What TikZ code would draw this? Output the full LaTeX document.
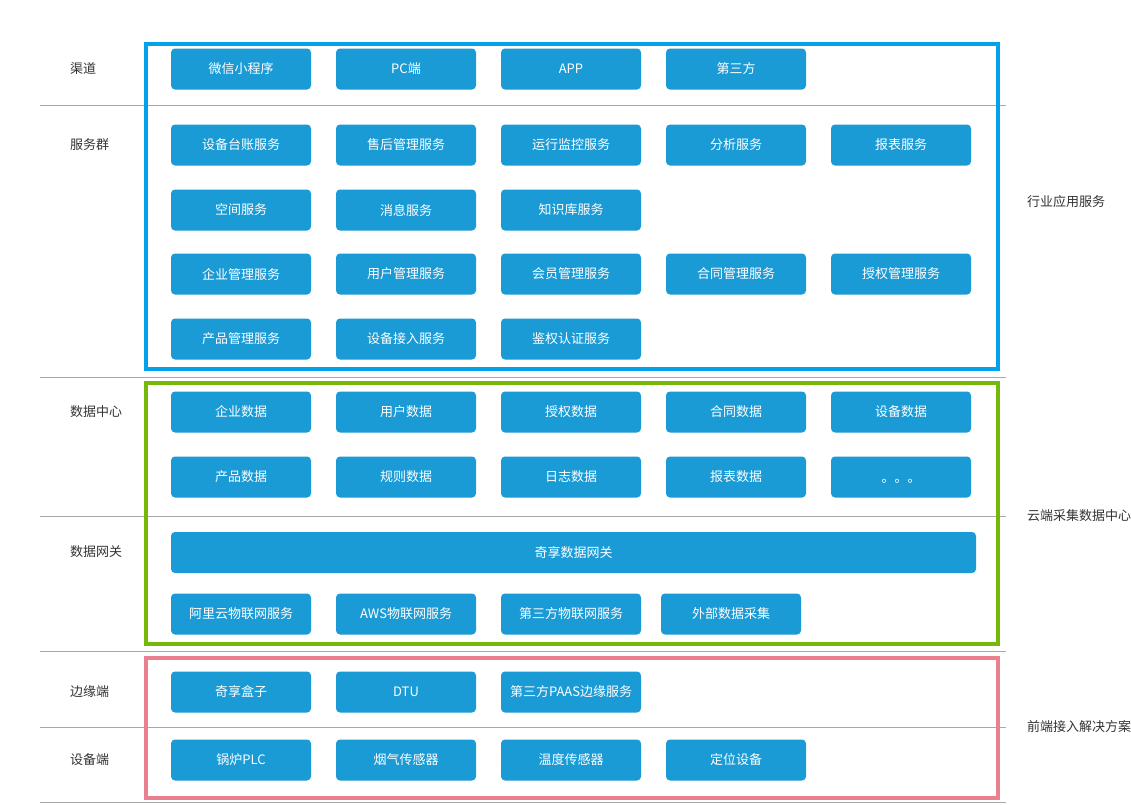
\documentclass[tikz,border=0pt]{standalone}
\usepackage{fontspec}
\setmainfont{Noto Sans CJK SC}
\definecolor{nodeblue}{HTML}{1A9BD6}
\definecolor{frameblue}{HTML}{00A2EA}
\definecolor{framegreen}{HTML}{76B80A}
\definecolor{framepink}{HTML}{E8818D}
\definecolor{sepgray}{HTML}{A8A8A8}
\definecolor{labelgray}{HTML}{333333}
\begin{document}
\begin{tikzpicture}[x=1pt,y=-1pt,
  box/.style={draw=none,fill=nodeblue,rounded corners=4pt,minimum width=140pt,minimum height=41pt,inner sep=0pt,text=white,font=\fontsize{13}{15}\selectfont},
  sideleft/.style={anchor=west,text=labelgray,inner sep=0pt,font=\fontsize{13}{15}\selectfont},
  sideright/.style={anchor=west,text=labelgray,inner sep=0pt,font=\fontsize{13}{15}\selectfont},
  sep/.style={draw=sepgray,line width=1pt},
  frame/.style={line width=3.5pt}]
\useasboundingbox (0,0) rectangle (1131,804);
\fill[white] (0,0) rectangle (1131,804);
% separators
\foreach \yy in {105,377,516,651,727,802} \draw[sep] (40,\yy) -- (1006,\yy);
% frames
\draw[frame,draw=frameblue] (146,44) rectangle (998,369);
\draw[frame,draw=framegreen] (146,383) rectangle (998,644);
\draw[frame,draw=framepink] (146,658) rectangle (998,798);
% left labels
\node[sideleft] (l1) at (70,69) {渠道};
\node[sideleft] (l2) at (70,145) {服务群};
\node[sideleft] (l3) at (70,412) {数据中心};
\node[sideleft] (l4) at (70,552) {数据网关};
\node[sideleft] (l5) at (70,692) {边缘端};
\node[sideleft] (l6) at (70,760) {设备端};
% right labels
\node[sideright] (r1) at (1027,202) {行业应用服务};
\node[sideright] (r2) at (1027,516) {云端采集数据中心};
\node[sideright] (r3) at (1027,727) {前端接入解决方案};
% row 1
\node[box] (a1) at (241,69) {微信小程序};
\node[box] (a2) at (406,69) {PC端};
\node[box] (a3) at (571,69) {APP};
\node[box] (a4) at (736,69) {第三方};
% services
\node[box] (b1) at (241,145) {设备台账服务};
\node[box] (b2) at (406,145) {售后管理服务};
\node[box] (b3) at (571,145) {运行监控服务};
\node[box] (b4) at (736,145) {分析服务};
\node[box] (b5) at (901,145) {报表服务};
\node[box] (c1) at (241,210) {空间服务};
\node[box] (c2) at (406,210) {消息服务};
\node[box] (c3) at (571,210) {知识库服务};
\node[box] (d1) at (241,274) {企业管理服务};
\node[box] (d2) at (406,274) {用户管理服务};
\node[box] (d3) at (571,274) {会员管理服务};
\node[box] (d4) at (736,274) {合同管理服务};
\node[box] (d5) at (901,274) {授权管理服务};
\node[box] (e1) at (241,339) {产品管理服务};
\node[box] (e2) at (406,339) {设备接入服务};
\node[box] (e3) at (571,339) {鉴权认证服务};
% data center
\node[box] (f1) at (241,412) {企业数据};
\node[box] (f2) at (406,412) {用户数据};
\node[box] (f3) at (571,412) {授权数据};
\node[box] (f4) at (736,412) {合同数据};
\node[box] (f5) at (901,412) {设备数据};
\node[box] (g1) at (241,477) {产品数据};
\node[box] (g2) at (406,477) {规则数据};
\node[box] (g3) at (571,477) {日志数据};
\node[box] (g4) at (736,477) {报表数据};
\node[box] (g5) at (901,477) {\smash{\raisebox{-5pt}{。。。}}};
% gateway
\node[box,minimum width=805pt] (h1) at (573.5,552.5) {奇享数据网关};
\node[box] (i1) at (241,614) {阿里云物联网服务};
\node[box] (i2) at (406,614) {AWS物联网服务};
\node[box] (i3) at (571,614) {第三方物联网服务};
\node[box] (i4) at (731,614) {外部数据采集};
% edge
\node[box] (j1) at (241,692) {奇享盒子};
\node[box] (j2) at (406,692) {DTU};
\node[box] (j3) at (571,692) {第三方PAAS边缘服务};
% devices
\node[box] (k1) at (241,760) {锅炉PLC};
\node[box] (k2) at (406,760) {烟气传感器};
\node[box] (k3) at (571,760) {温度传感器};
\node[box] (k4) at (736,760) {定位设备};
\end{tikzpicture}
\end{document}
